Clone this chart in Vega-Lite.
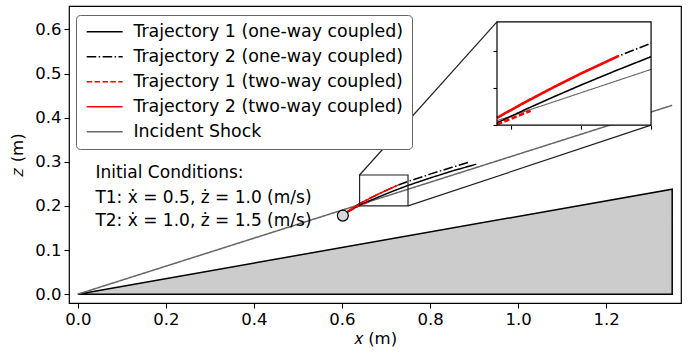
{
  "$schema": "https://vega.github.io/schema/vega-lite/v6.json",
  "width": 612,
  "height": 297,
  "autosize": {"type": "none"},
  "padding": {"left": 69, "top": 6, "right": 9, "bottom": 51},
  "background": "white",
  "config": {
    "font": "DejaVu Sans",
    "view": {"stroke": "#000", "strokeWidth": 1.2},
    "axis": {"grid": false, "domain": false, "tickColor": "#000", "tickSize": 5, "tickWidth": 1.1, "labelFontSize": 16.5, "labelColor": "#000", "titleFontSize": 16.5, "titleFontWeight": "normal", "titleColor": "#000", "labelFont": "DejaVu Sans", "titleFont": "DejaVu Sans"},
    "legend": {"orient": "none", "legendX": 7, "legendY": 9, "padding": 8, "fillColor": "white", "strokeColor": "#666", "cornerRadius": 4, "strokeWidth": 1, "labelFontSize": 17.4, "labelColor": "#000", "labelFont": "DejaVu Sans", "labelLimit": 0, "symbolType": "M-1,0H5", "symbolSize": 144, "symbolStrokeWidth": 1.5, "labelOffset": 32, "rowPadding": 6}
  },
  "datasets": {
    "lines": [
      {"series": "Incident Shock", "x": 0, "z": 0},
      {"series": "Incident Shock", "x": 0.64, "z": 0.203},
      {"series": "Incident Shock", "x": 0.75, "z": 0.2378},
      {"series": "Incident Shock", "x": 1.35, "z": 0.428},
      {"series": "Trajectory 1 (one-way coupled)", "x": 0.602, "z": 0.178},
      {"series": "Trajectory 1 (one-way coupled)", "x": 0.61, "z": 0.1842},
      {"series": "Trajectory 1 (one-way coupled)", "x": 0.62, "z": 0.1905},
      {"series": "Trajectory 1 (one-way coupled)", "x": 0.63, "z": 0.1962},
      {"series": "Trajectory 1 (one-way coupled)", "x": 0.64, "z": 0.2015},
      {"series": "Trajectory 1 (one-way coupled)", "x": 0.66, "z": 0.2105},
      {"series": "Trajectory 1 (one-way coupled)", "x": 0.68, "z": 0.219},
      {"series": "Trajectory 1 (one-way coupled)", "x": 0.7, "z": 0.2272},
      {"series": "Trajectory 1 (one-way coupled)", "x": 0.725, "z": 0.237},
      {"series": "Trajectory 1 (one-way coupled)", "x": 0.75, "z": 0.2464},
      {"series": "Trajectory 1 (one-way coupled)", "x": 0.8, "z": 0.2632},
      {"series": "Trajectory 1 (one-way coupled)", "x": 0.85, "z": 0.279},
      {"series": "Trajectory 1 (one-way coupled)", "x": 0.905, "z": 0.2945},
      {"series": "Trajectory 2 (one-way coupled)", "x": 0.602, "z": 0.178},
      {"series": "Trajectory 2 (one-way coupled)", "x": 0.61, "z": 0.1855},
      {"series": "Trajectory 2 (one-way coupled)", "x": 0.62, "z": 0.1925},
      {"series": "Trajectory 2 (one-way coupled)", "x": 0.63, "z": 0.199},
      {"series": "Trajectory 2 (one-way coupled)", "x": 0.64, "z": 0.205},
      {"series": "Trajectory 2 (one-way coupled)", "x": 0.66, "z": 0.2155},
      {"series": "Trajectory 2 (one-way coupled)", "x": 0.68, "z": 0.2255},
      {"series": "Trajectory 2 (one-way coupled)", "x": 0.7, "z": 0.235},
      {"series": "Trajectory 2 (one-way coupled)", "x": 0.727, "z": 0.247},
      {"series": "Trajectory 2 (one-way coupled)", "x": 0.75, "z": 0.2555},
      {"series": "Trajectory 2 (one-way coupled)", "x": 0.8, "z": 0.272},
      {"series": "Trajectory 2 (one-way coupled)", "x": 0.85, "z": 0.2875},
      {"series": "Trajectory 2 (one-way coupled)", "x": 0.887, "z": 0.2986},
      {"series": "Trajectory 1 (two-way coupled)", "x": 0.602, "z": 0.178},
      {"series": "Trajectory 1 (two-way coupled)", "x": 0.61, "z": 0.1838},
      {"series": "Trajectory 1 (two-way coupled)", "x": 0.62, "z": 0.1898},
      {"series": "Trajectory 1 (two-way coupled)", "x": 0.63, "z": 0.1953},
      {"series": "Trajectory 1 (two-way coupled)", "x": 0.64, "z": 0.2005},
      {"series": "Trajectory 1 (two-way coupled)", "x": 0.664, "z": 0.2098},
      {"series": "Trajectory 2 (two-way coupled)", "x": 0.602, "z": 0.178},
      {"series": "Trajectory 2 (two-way coupled)", "x": 0.61, "z": 0.1855},
      {"series": "Trajectory 2 (two-way coupled)", "x": 0.62, "z": 0.1925},
      {"series": "Trajectory 2 (two-way coupled)", "x": 0.63, "z": 0.199},
      {"series": "Trajectory 2 (two-way coupled)", "x": 0.64, "z": 0.205},
      {"series": "Trajectory 2 (two-way coupled)", "x": 0.66, "z": 0.2155},
      {"series": "Trajectory 2 (two-way coupled)", "x": 0.68, "z": 0.2255},
      {"series": "Trajectory 2 (two-way coupled)", "x": 0.7, "z": 0.235},
      {"series": "Trajectory 2 (two-way coupled)", "x": 0.727, "z": 0.247}
    ],
    "wedge": [
      {"i": 0, "x": 0, "z": 0},
      {"i": 1, "x": 1.35, "z": 0.238},
      {"i": 2, "x": 1.35, "z": 0},
      {"i": 3, "x": 0, "z": 0}
    ]
  },
  "layer": [
    {
      "encoding": {
        "x": {"field": "x", "type": "quantitative", "scale": {"domain": [-0.02, 1.37], "nice": false, "zero": false}, "axis": {"values": [0, 0.2, 0.4, 0.6, 0.8, 1.0, 1.2], "format": ".1f", "title": "𝑥 (m)", "labelPadding": 3, "titlePadding": 3}},
        "y": {"field": "z", "type": "quantitative", "scale": {"domain": [-0.02, 0.653], "nice": false, "zero": false}, "axis": {"values": [0, 0.1, 0.2, 0.3, 0.4, 0.5, 0.6], "format": ".1f", "title": "𝑧 (m)", "labelPadding": 3, "titlePadding": 9}}
      },
      "layer": [
        {
          "data": {"name": "wedge"},
          "transform": [{"filter": "datum.i < 2"}],
          "mark": {"type": "area", "fill": "#cccccc", "stroke": null},
          "encoding": {"y2": {"datum": 0}}
        },
        {
          "data": {"name": "wedge"},
          "mark": {"type": "line", "color": "#000", "strokeWidth": 1.5},
          "encoding": {"order": {"field": "i"}}
        },
        {
          "data": {"name": "lines"},
          "mark": {"type": "line"},
          "encoding": {
            "color": {"field": "series", "type": "nominal", "scale": {"domain": ["Trajectory 1 (one-way coupled)", "Trajectory 2 (one-way coupled)", "Trajectory 1 (two-way coupled)", "Trajectory 2 (two-way coupled)", "Incident Shock"], "range": ["#000000", "#000000", "#ff0000", "#ff0000", "#666666"]}, "legend": {"title": null}},
            "strokeDash": {"field": "series", "type": "nominal", "scale": {"domain": ["Trajectory 1 (one-way coupled)", "Trajectory 2 (one-way coupled)", "Trajectory 1 (two-way coupled)", "Trajectory 2 (two-way coupled)", "Incident Shock"], "range": [[1, 0], [9.6, 2.4, 1.5, 2.4], [5.5, 2.4], [1, 0], [1, 0]]}, "legend": {"title": null}},
            "strokeWidth": {"field": "series", "type": "nominal", "scale": {"domain": ["Trajectory 1 (one-way coupled)", "Trajectory 2 (one-way coupled)", "Trajectory 1 (two-way coupled)", "Trajectory 2 (two-way coupled)", "Incident Shock"], "range": [1.5, 1.5, 1.2, 1.5, 1.0]}, "legend": {"title": null}}
          }
        },
        {
          "data": {"values": [{"x": 0.64, "x2": 0.75, "z": 0.2, "z2": 0.27}]},
          "mark": {"type": "rect", "fill": null, "stroke": "#222", "strokeWidth": 1.2},
          "encoding": {"x2": {"field": "x2"}, "y2": {"field": "z2"}}
        },
        {
          "data": {"values": [{"x": 0.64, "z": 0.27, "x2": 0.952, "z2": 0.617}, {"x": 0.75, "z": 0.2, "x2": 1.302, "z2": 0.383}]},
          "mark": {"type": "rule", "color": "#222", "strokeWidth": 1.2},
          "encoding": {"x2": {"field": "x2"}, "y2": {"field": "z2"}}
        },
        {
          "data": {"values": [{"x": 0.602, "z": 0.178}]},
          "mark": {"type": "point", "shape": "circle", "filled": true, "fill": "#d9d9d9", "stroke": "#000", "strokeWidth": 1.2, "size": 120, "opacity": 1}
        },
        {
          "data": {"values": [
            {"x": 0.04, "z": 0.274, "t": "Initial Conditions:"},
            {"x": 0.04, "z": 0.2177, "t": "T1: ẋ = 0.5, ż = 1.0 (m/s)"},
            {"x": 0.04, "z": 0.1655, "t": "T2: ẋ = 1.0, ż = 1.5 (m/s)"}
          ]},
          "mark": {"type": "text", "align": "left", "baseline": "middle", "fontSize": 17, "color": "#000", "font": "DejaVu Sans"},
          "encoding": {"text": {"field": "t"}}
        }
      ]
    },
    {
      "layer": [
        {
          "data": {"values": [{"x": 0.64, "x2": 0.75, "z": 0.2, "z2": 0.27}]},
          "mark": {"type": "rect", "fill": "white", "stroke": null},
          "encoding": {
            "x": {"field": "x", "type": "quantitative", "scale": {"domain": [0.64, 0.75], "range": [428, 582.06], "nice": false, "zero": false}, "axis": {"orient": "bottom", "offset": -177.85, "values": [0.65, 0.7, 0.75], "labels": false, "title": null, "tickSize": 4}},
            "x2": {"field": "x2"},
            "y": {"field": "z", "type": "quantitative", "scale": {"domain": [0.2, 0.27], "range": [119.15, 15.89], "nice": false, "zero": false}, "axis": {"orient": "left", "offset": -428, "values": [0.2, 0.225, 0.25], "labels": false, "title": null, "tickSize": 4}},
            "y2": {"field": "z2"}
          }
        },
        {
          "data": {"name": "lines"},
          "transform": [{"filter": {"field": "x", "range": [0.64, 0.75]}}],
          "mark": {"type": "line"},
          "encoding": {
            "x": {"field": "x", "type": "quantitative", "scale": {"domain": [0.64, 0.75], "range": [428, 582.06], "nice": false, "zero": false}, "axis": {"orient": "bottom", "offset": -177.85, "values": [0.65, 0.7, 0.75], "labels": false, "title": null, "tickSize": 4}},
            "y": {"field": "z", "type": "quantitative", "scale": {"domain": [0.2, 0.27], "range": [119.15, 15.89], "nice": false, "zero": false}, "axis": {"orient": "left", "offset": -428, "values": [0.2, 0.225, 0.25], "labels": false, "title": null, "tickSize": 4}},
            "color": {"field": "series", "type": "nominal", "legend": {"title": null}},
            "strokeDash": {"field": "series", "type": "nominal", "legend": {"title": null}},
            "strokeWidth": {"condition": [{"test": "indexof(datum.series, 'two-way') >= 0", "value": 2.6}, {"test": "datum.series === 'Incident Shock'", "value": 1.1}], "value": 1.6}
          }
        },
        {
          "data": {"values": [{"x": 0.64, "x2": 0.75, "z": 0.2, "z2": 0.27}]},
          "mark": {"type": "rect", "fill": null, "stroke": "#000", "strokeWidth": 1.2},
          "encoding": {
            "x": {"field": "x", "type": "quantitative", "scale": {"domain": [0.64, 0.75], "range": [428, 582.06], "nice": false, "zero": false}, "axis": {"orient": "bottom", "offset": -177.85, "values": [0.65, 0.7, 0.75], "labels": false, "title": null, "tickSize": 4}},
            "x2": {"field": "x2"},
            "y": {"field": "z", "type": "quantitative", "scale": {"domain": [0.2, 0.27], "range": [119.15, 15.89], "nice": false, "zero": false}, "axis": {"orient": "left", "offset": -428, "values": [0.2, 0.225, 0.25], "labels": false, "title": null, "tickSize": 4}},
            "y2": {"field": "z2"}
          }
        }
      ]
    }
  ],
  "resolve": {"scale": {"x": "independent", "y": "independent"}}
}
